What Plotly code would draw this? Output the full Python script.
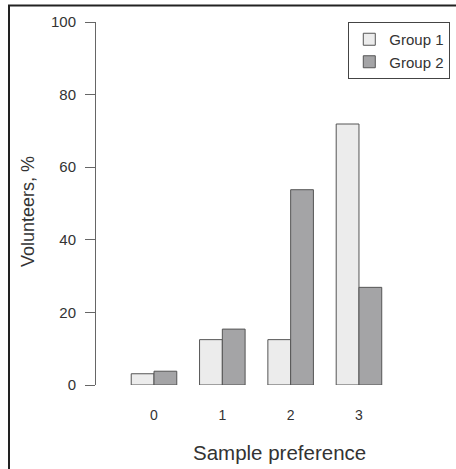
import plotly.graph_objects as go

categories = [0, 1, 2, 3]
tick_labels = ["0", "1", "2", "3"]
group1 = [3.1, 12.5, 12.5, 71.9]
group2 = [3.8, 15.4, 53.8, 26.9]
y_ticks = [0, 20, 40, 60, 80, 100]

W, H = 456, 469
L, R, T, B = 96, 5, 22, 84

fig = go.Figure()
fig.add_trace(go.Bar(x=categories, y=group1, name="Group 1",
                     marker=dict(color="#ececec", line=dict(color="#555555", width=1))))
fig.add_trace(go.Bar(x=categories, y=group2, name="Group 2",
                     marker=dict(color="#a4a4a6", line=dict(color="#555555", width=1))))

pw = W - L - R
ph = H - T - B
def px_x(p):
    return (p - L) / pw
def px_y(p):
    return (H - B - p) / ph

fig.update_layout(
    width=W, height=H,
    margin=dict(l=L, r=R, t=T, b=B, pad=0),
    barmode="group", bargap=1/3, bargroupgap=0,
    paper_bgcolor="white", plot_bgcolor="white",
    font=dict(family="Liberation Sans, Arial, sans-serif", color="#333333"),
    showlegend=True,
    legend=dict(x=0.998, y=1, xanchor="right", yanchor="top",
                bordercolor="#444444", borderwidth=1, bgcolor="white",
                font=dict(size=15, color="#333333")),
    xaxis=dict(range=[-0.849, 4.347], tickmode="array", tickvals=categories,
               ticktext=tick_labels, showline=False, showgrid=False, zeroline=False,
               ticks="", ticklabelstandoff=20,
               tickfont=dict(size=14, color="#333333")),
    yaxis=dict(range=[0, 100], tickmode="array", tickvals=y_ticks,
               showline=True, linecolor="#666666", linewidth=1,
               showgrid=False, zeroline=False,
               ticks="outside", ticklen=10, tickcolor="#666666", tickwidth=1,
               ticklabelstandoff=6,
               tickfont=dict(size=15, color="#333333")),
    annotations=[
        dict(text="Sample preference", xref="paper", yref="paper",
             x=px_x(279), y=px_y(452), xanchor="center", yanchor="middle",
             showarrow=False, font=dict(size=20.5, color="#333333")),
        dict(text="Volunteers, %", xref="paper", yref="paper",
             x=px_x(28), y=px_y(212), xanchor="center", yanchor="middle",
             textangle=-90, showarrow=False, font=dict(size=18, color="#333333")),
    ],
)

# outer frame
fig.add_shape(type="rect", xref="paper", yref="paper",
              x0=px_x(9), x1=px_x(462), y0=px_y(476), y1=px_y(5.5),
              line=dict(color="#222222", width=2), fillcolor="rgba(0,0,0,0)", layer="above")

fig.write_html("out.html", config={"displayModeBar": False},
               post_script="document.body.style.margin='0';document.body.style.overflow='hidden';")
